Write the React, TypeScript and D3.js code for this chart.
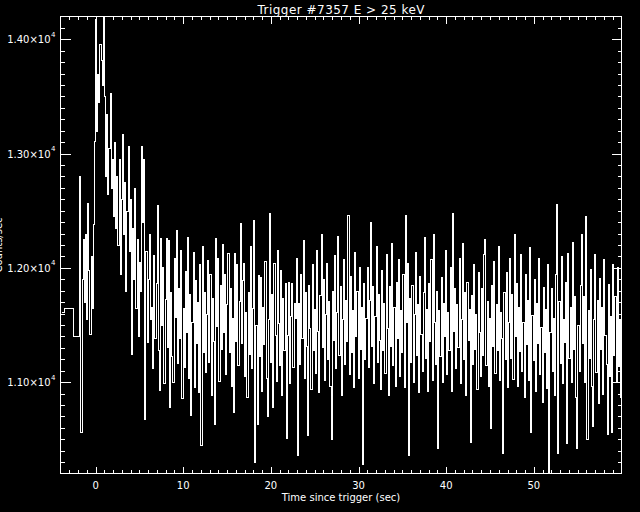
import * as d3 from 'd3';

const title = 'Trigger #7357 E > 25 keV';
const xTitle = 'Time since trigger (sec)';
const yTitle = 'Counts/sec';

const xMajorTicks = [0, 10, 20, 30, 40, 50];
const yMajorTicks = [11000, 12000, 13000, 14000];
const yTickMantissa = ['1.10', '1.20', '1.30', '1.40'];

// pre-trigger 1.024 s bins (start times, rates)
const preStart = [-4.0, -3.57, -2.54];
const preRates = [11610, 11650, 11400];

// 0.128 s bins starting at -1.856 s
const fineStart = -1.856;
const fineWidth = 0.128;

const rateSeg0 = [
  12800, 10560, 11900, 12250, 11700, 12300, 11550, 12570, 11980, 11420, 12100, 11650, 12380, 13110, 14180, 13200,
  13700, 13450, 13960, 13820, 13600, 14300, 13500, 12800, 13350, 12650, 13050, 13530, 12700, 12950, 12450, 13100,
  12350, 12800, 12200, 12950, 11950, 12600, 13170, 12300, 12750, 11800, 12500, 13070, 12150, 12600, 11250, 12350,
  11900, 12700, 11650, 12250, 11400, 12050, 11800, 13070, 12400, 12950, 10680, 12150, 11350, 11900, 12300, 11550,
];
const rateSeg1 = [
  11660, 11120, 12110, 11390, 11870, 12550, 11280, 10930, 12260, 11500, 12010, 10990, 11730, 12260, 11310, 12240,
  10780, 11790, 11230, 11000, 12090, 11570, 12330, 11170, 11820, 11390, 12160, 10860, 11650, 11130, 11970, 11440,
  12270, 11040, 11770, 10710, 11530, 12140, 10960, 11890, 11340, 11700, 10910, 12030, 10450, 12190, 11260, 11790,
  11090, 11600, 12070, 11180, 11950, 10890, 11740, 11360, 10630, 12260, 11490, 12090, 11010, 11850, 11290, 12210,
];
const rateSeg2 = [
  11440, 11950, 11070, 11680, 12130, 11260, 11820, 10970, 11560, 10740, 12130, 11360, 12030, 11150, 11710, 12390,
  11340, 11890, 12040, 11050, 11610, 10870, 11790, 11250, 12190, 11120, 11650, 12420, 10300, 11500, 10630, 11940,
  11230, 11920, 10920, 11660, 11330, 12060, 11040, 10700, 11550, 12480, 11180, 11770, 10780, 12040, 11410, 11010,
  12160, 11520, 11150, 11980, 10890, 11740, 11280, 11870, 10510, 11410, 11880, 10990, 11580, 11870, 11130, 11690,
];
const rateSeg3 = [
  11560, 12090, 10360, 11690, 11160, 11950, 11390, 12240, 11040, 11790, 11320, 10540, 11850, 11470, 10940, 12030,
  11280, 11640, 11080, 12160, 11450, 10910, 11760, 12300, 11310, 11900, 11020, 11600, 12040, 11200, 11710, 10970,
  10500, 11800, 11370, 12110, 11120, 11610, 12280, 11240, 11840, 10890, 11550, 12080, 11160, 11720, 11360, 12460,
  11070, 11930, 11260, 11630, 10960, 12140, 11400, 11800, 11040, 12010, 11290, 11660, 10280, 11870, 11200, 11560,
];
const rateSeg4 = [
  12010, 11130, 11720, 12400, 11320, 11840, 10990, 11580, 12190, 11180, 11770, 11370, 10940, 11980, 11280, 11690,
  11080, 12120, 11470, 10890, 11840, 11320, 12220, 11150, 11660, 10970, 11880, 11390, 12080, 11050, 11630, 11260,
  11950, 10960, 12460, 11530, 12040, 10360, 11740, 11180, 11850, 11000, 11600, 12140, 11240, 11680, 10910, 11930,
  11420, 11100, 11790, 12270, 11210, 11640, 10920, 11870, 11360, 12080, 11020, 12300, 11530, 11160, 11800, 10420,
];
const rateSeg5 = [
  11630, 11230, 11920, 11000, 11690, 11400, 12160, 11070, 11610, 11280, 12010, 10920, 12480, 11450, 11820, 11120,
  11680, 11310, 12090, 10990, 11550, 12220, 11200, 11790, 10890, 11880, 11370, 11640, 10480, 11760, 11160, 12030,
  11290, 11600, 10940, 11960, 11440, 11050, 11820, 11240, 12120, 12250, 11150, 11710, 10970, 11560, 10600, 11850,
  11320, 12060, 11080, 11680, 11280, 12190, 11020, 11610, 11390, 10380, 11790, 11200, 11960, 10960, 11530, 12090,
];
const rateSeg6 = [
  11210, 11770, 11030, 12300, 11400, 11870, 10970, 11660, 11270, 12120, 11100, 11530, 10870, 11950, 11330, 11720,
  11020, 12180, 10560, 11590, 11190, 11900, 10920, 11690, 11340, 12090, 11070, 11480, 10830, 11830, 11260, 11640,
  10950, 12030, 10150, 11440, 11820, 11100, 11560, 10890, 11950, 12560, 10380, 11710, 11170, 12100, 10990, 11550,
  11350, 11880, 10470, 12130, 11210, 11660, 11000, 12230, 11290, 11750, 10870, 10420, 11500, 11100, 11850, 12300,
];
const rateSeg7 = [
  11340, 11750, 11000, 12455, 10500, 11630, 11210, 11990, 10970, 10620, 11550, 12120, 11090, 11720, 10820, 11910,
  11290, 11660, 10900, 12080, 11410, 11160, 10550, 11860, 11050, 11580, 10565, 12035, 11240, 11750, 11000, 12010,
  11140, 11550, 10870, 11420,
];

const W = 640;
const H = 512;
const left = 60.5;
const right = 621.5;
const top = 16.5;
const bottom = 473.5;
const font = 'DejaVu Sans, sans-serif';

export default function App() {
  const x = d3.scaleLinear().domain([-4, 60]).range([left, right]);
  const y = d3.scaleLinear().domain([10200, 14200]).range([bottom, top]);

  const fine = [rateSeg0, rateSeg1, rateSeg2, rateSeg3, rateSeg4, rateSeg5, rateSeg6, rateSeg7].flat();
  const pts: { t: number; v: number }[] = [];
  preStart.forEach((t, i) => pts.push({ t, v: preRates[i] }));
  fine.forEach((v, i) => pts.push({ t: fineStart + i * fineWidth, v }));
  pts.push({ t: fineStart + fine.length * fineWidth, v: fine[fine.length - 1] });

  const line = d3
    .line<{ t: number; v: number }>()
    .x(d => Math.round(x(d.t)) + 0.5)
    .y(d => Math.round(y(d.v)) + 0.5)
    .curve(d3.curveStepAfter);

  const xMinor = d3.range(-3, 60, 1).filter(v => !xMajorTicks.includes(v));
  const yMinor = d3.range(10300, 14200, 100).filter(v => !yMajorTicks.includes(v));
  const px = (v: number) => Math.round(x(v)) + 0.5;
  const py = (v: number) => Math.round(y(v)) + 0.5;

  return (
    <svg
      width={W}
      height={H}
      style={{ position: 'fixed', left: 0, top: 0, display: 'block' }}
      fontFamily={font}
    >
      <rect width={W} height={H} fill="#000" />
      <defs>
        <clipPath id="plot">
          <rect x={left} y={top} width={right - left} height={bottom - top} />
        </clipPath>
      </defs>

      <path
        d={line(pts) || ''}
        fill="none"
        stroke="#fff"
        strokeWidth={1}
        shapeRendering="crispEdges"
        clipPath="url(#plot)"
      />

      <g stroke="#fff" strokeWidth={1} shapeRendering="crispEdges">
        <rect x={left} y={top} width={right - left} height={bottom - top} fill="none" />
        {xMajorTicks.map(v => (
          <g key={'xm' + v}>
            <line x1={px(v)} x2={px(v)} y1={bottom} y2={bottom - 7} />
            <line x1={px(v)} x2={px(v)} y1={top} y2={top + 7} />
          </g>
        ))}
        {xMinor.map(v => (
          <g key={'xn' + v}>
            <line x1={px(v)} x2={px(v)} y1={bottom} y2={bottom - 3.5} />
            <line x1={px(v)} x2={px(v)} y1={top} y2={top + 3.5} />
          </g>
        ))}
        {yMajorTicks.map(v => (
          <g key={'ym' + v}>
            <line x1={left} x2={left + 10} y1={py(v)} y2={py(v)} />
            <line x1={right} x2={right - 10} y1={py(v)} y2={py(v)} />
          </g>
        ))}
        {yMinor.map(v => (
          <g key={'yn' + v}>
            <line x1={left} x2={left + 4} y1={py(v)} y2={py(v)} />
            <line x1={right} x2={right - 4} y1={py(v)} y2={py(v)} />
          </g>
        ))}
      </g>

      <g fill="#fff" fontSize={10}>
        {xMajorTicks.map(v => (
          <text key={'xl' + v} x={x(v)} y={489} textAnchor="middle">
            {v}
          </text>
        ))}
        {yMajorTicks.map((v, i) => (
          <g key={'yl' + v}>
            <text x={50.5} y={y(v) + 4} textAnchor="end">
              {yTickMantissa[i] + '×10'}
            </text>
            <text x={51} y={y(v) - 2.5} fontSize={7}>
              4
            </text>
          </g>
        ))}
        <text x={(left + right) / 2} y={501} textAnchor="middle">
          {xTitle}
        </text>
        <text x={(left + right) / 2} y={14} textAnchor="middle" fontSize={12} textLength={167}>
          {title}
        </text>
        <text
          transform={`translate(1.5, ${(top + bottom) / 2}) rotate(-90)`}
          textAnchor="middle"
        >
          {yTitle}
        </text>
      </g>
    </svg>
  );
}
